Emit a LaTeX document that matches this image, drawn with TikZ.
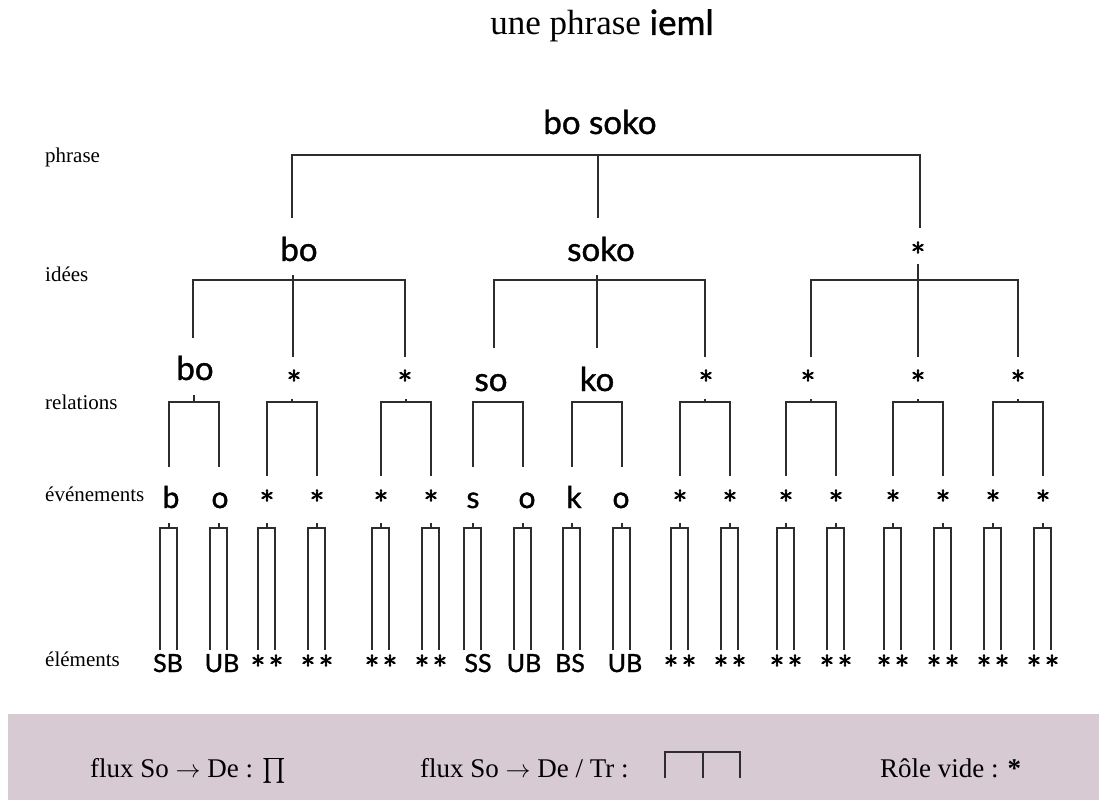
\documentclass[tikz,border=0pt]{standalone}
\usepackage{amsmath}
\usepackage{fontspec}
\setmainfont{Liberation Serif}
\newfontfamily\gill[FakeBold=1.2]{Lato}
\newfontfamily\starfont[FakeBold=2.5]{Latin Modern Math}
\definecolor{lncol}{RGB}{45,45,45}
\definecolor{band}{RGB}{216,202,211}
\begin{document}
\begin{tikzpicture}[x=1pt,y=-1pt,
  ln/.style={line width=2pt, draw=lncol, line cap=butt},
  big/.style={font=\gill\fontsize{33}{33}\selectfont, inner sep=0pt, anchor=base},
  ev/.style={font=\gill\fontsize{30}{30}\selectfont, inner sep=0pt, anchor=base},
  el/.style={font=\gill\fontsize{25}{25}\selectfont, inner sep=0pt, anchor=base},
  st/.style={font=\starfont\fontsize{28}{28}\selectfont, inner sep=0pt, anchor=center},
  lvl/.style={font=\fontsize{21}{21}\selectfont, anchor=base west, inner sep=0pt},
  lg/.style={font=\fontsize{27}{27}\selectfont, anchor=base west, inner sep=0pt}]
\useasboundingbox (0,0) rectangle (1099,800);
% title
\node[font=\fontsize{35}{35}\selectfont, anchor=base, inner sep=0pt] (title) at (602,35) {une phrase {\gill ieml}};
% level labels
\node[lvl] (Lphrase) at (45,162) {phrase};
\node[lvl] (Lidees) at (45,281) {idées};
\node[lvl] (Lrel) at (45,409) {relations};
\node[lvl] (Lev) at (45,501) {événements};
\node[lvl] (Lel) at (45,666) {éléments};
% phrase
\node[big] (top) at (600,134) {bo soko};
\coordinate (tb1) at (292,218); \coordinate (tb2) at (598,218); \coordinate (tb3) at (920,228);
\coordinate (tbar) at (598,155);
\draw[ln] (tb1) |- (tbar) -| (tb3);
\draw[ln] (tbar) -- (tb2);
% ideas
\node[big] (i1) at (299,261) {bo};
\node[big] (i2) at (601,261) {soko};
\node[st] (i3) at (918,248) {∗};
% idea brackets
\coordinate (i1l) at (193,338); \coordinate (i1m) at (293,357); \coordinate (i1r) at (405,357);
\coordinate (i1t) at (293,275);
\draw[ln] (i1l) |- (i1r |- 0,280) -- (i1r);
\draw[ln] (i1t) -- (i1m);
\coordinate (i2l) at (494,348); \coordinate (i2m) at (597,348); \coordinate (i2r) at (705,357);
\coordinate (i2t) at (597,275);
\draw[ln] (i2l) |- (i2r |- 0,280) -- (i2r);
\draw[ln] (i2t) -- (i2m);
\coordinate (i3l) at (811,357); \coordinate (i3m) at (918,357); \coordinate (i3r) at (1018,357);
\coordinate (i3t) at (918,264);
\draw[ln] (i3l) |- (i3r |- 0,280) -- (i3r);
\draw[ln] (i3t) -- (i3m);
% relations
\node[big] (r1) at (195,380) {bo};
\node[st] (r2) at (294,376) {∗};
\node[st] (r3) at (405,376) {∗};
\node[big] (r4) at (491,391) {so};
\node[big] (r5) at (597,391) {ko};
\node[st] (r6) at (706,376) {∗};
\node[st] (r7) at (808,376) {∗};
\node[st] (r8) at (918,376) {∗};
\node[st] (r9) at (1018,376) {∗};
% relation brackets
\foreach \c/\b/\t [count=\k] in {194/467/7, 292/476/3, 406/476/3, 498/467/0, 597/467/0, 705/476/3, 811/476/3, 918/476/3, 1018/476/3}{
  \coordinate (rb\k) at (\c,402);
  \draw[ln] (\c-25,\b) |- (rb\k) -| (\c+25,\b);
  \draw[ln] (rb\k) -- ++(0,-\t);
}
% event brackets
\foreach \x [count=\i] in {169,219,267,317,381,431,473,523,572,622,680,730,786,836,893,943,993,1043}{
  \coordinate (eb\i) at (\x,528);
  \coordinate (ebl\i) at (\x-9,650);
  \coordinate (ebr\i) at (\x+8,650);
  \draw[ln] (ebl\i) |- (eb\i) -| (ebr\i);
  \draw[ln] (eb\i) -- ++(0,-5);
}
% events labels
\node[ev] (e1) at (171,508) {b};
\node[ev] (e2) at (220,508) {o};
\node[ev] (e7) at (473,508) {s};
\node[ev] (e8) at (527,508) {o};
\node[ev] (e9) at (574,508) {k};
\node[ev] (e10) at (621,508) {o};
\foreach \x [count=\i] in {267,317,381,431,680,730,786,836,893,943,993,1043}{
  \node[st] (es\i) at (\x,496) {∗};
  \node[st] (esa\i) at (\x-9,661) {∗};
  \node[st] (esb\i) at (\x+9,661) {∗};
}
% element labels
\node[el] (m1) at (168,672) {SB};
\node[el] (m2) at (222,672) {UB};
\node[el] (m7) at (478,672) {SS};
\node[el] (m8) at (524,672) {UB};
\node[el] (m9) at (570,672) {BS};
\node[el] (m10) at (625,672) {UB};
% legend
\fill[band] (8,714) rectangle (1099,800);
\node[lg] (lg1) at (90,777) {flux So $\rightarrow$ De : $\prod$};
\node[lg] (lg2) at (420,777) {flux So $\rightarrow$ De / Tr :};
\coordinate (lb1) at (665,778); \coordinate (lb2) at (703,778); \coordinate (lb3) at (740,778);
\draw[line width=1.5pt, draw=lncol] (lb1) |- (lb3 |- 0,752) -- (lb3);
\draw[line width=1.5pt, draw=lncol] (lb2) -- (lb2 |- 0,752);
\node[lg] (lg3) at (880,777) {Rôle vide : \textbf{*}};
\end{tikzpicture}
\end{document}
